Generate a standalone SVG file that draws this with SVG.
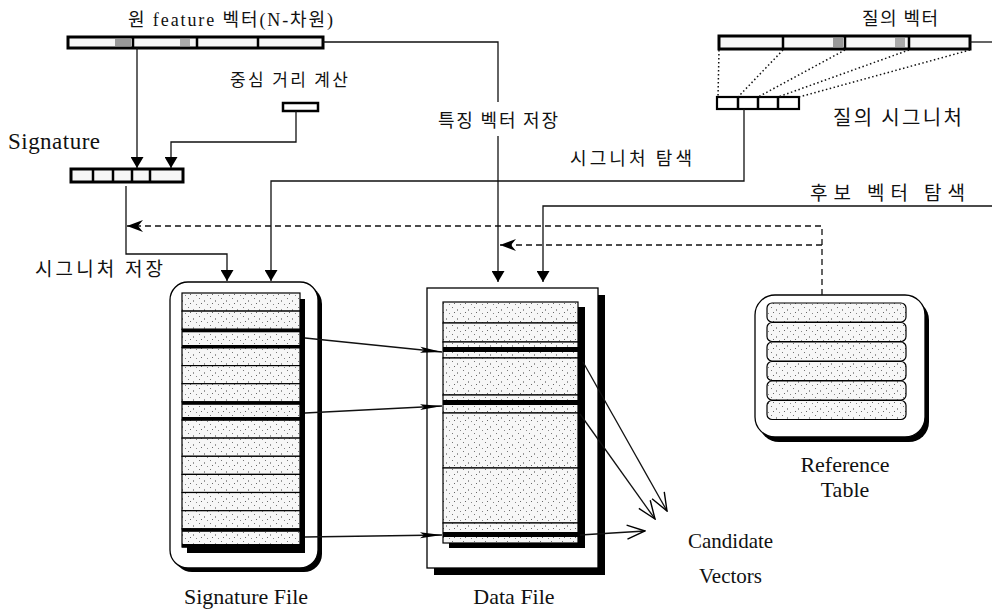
<svg xmlns="http://www.w3.org/2000/svg" width="992" height="611" viewBox="0 0 992 611">
<style>
.ser{font-family:"Liberation Serif","Noto Sans CJK KR",serif;fill:#111}
.kr{font-family:"Noto Sans CJK KR","Liberation Serif",sans-serif;fill:#111}
.ln{fill:none;stroke:#111;stroke-width:1.3}
.dash{fill:none;stroke:#111;stroke-width:1.3;stroke-dasharray:6 4}
.dot{fill:none;stroke:#111;stroke-width:1.5;stroke-dasharray:1.5 2.5}
.bar{fill:#f6f6f6;stroke:#000;stroke-width:3}
.cell{fill:url(#tex);stroke:#000;stroke-width:1.2}
.sep{stroke:#000;stroke-width:2.5}
.shadow{fill:#000}
</style>
<defs>
<pattern id="tex" width="11" height="9" patternUnits="userSpaceOnUse">
<rect width="11" height="9" fill="#f7f7f7"/>
<rect x="1" y="1" width="1" height="1" fill="#777"/>
<rect x="6" y="3" width="1" height="2" fill="#999"/>
<rect x="3" y="6" width="1" height="1" fill="#666"/>
<rect x="9" y="7" width="1" height="1" fill="#888"/>
</pattern>
<marker id="ah" viewBox="0 0 11 13" markerWidth="11" markerHeight="13" refX="11" refY="6.5" orient="auto" markerUnits="userSpaceOnUse">
<path d="M0,0 L11,6.5 L0,13 z" fill="#000"/>
</marker>
<marker id="dah" viewBox="0 0 16 12" markerWidth="16" markerHeight="12" refX="16" refY="6" orient="auto" markerUnits="userSpaceOnUse">
<path d="M0,0 L16,6 L0,12 L5,6 z" fill="#000"/>
</marker>
<marker id="lah" viewBox="0 0 22 8" markerWidth="22" markerHeight="8" refX="22" refY="4" orient="auto" markerUnits="userSpaceOnUse">
<path d="M0,1 L22,4 L0,7 L4,4 z" fill="#000"/>
</marker>
<marker id="oah" viewBox="0 0 20 16" markerWidth="20" markerHeight="16" refX="19" refY="8" orient="auto" markerUnits="userSpaceOnUse">
<path d="M1,1 L19,8 L1,15" fill="none" stroke="#000" stroke-width="1.4"/>
</marker>
</defs>
<rect width="992" height="611" fill="#fff"/>

<g id="feature-vector">
<rect class="bar" x="68" y="37" width="255" height="11"/>
<line class="sep" x1="133" y1="37" x2="133" y2="48"/>
<line class="sep" x1="197" y1="37" x2="197" y2="48"/>
<line class="sep" x1="258" y1="37" x2="258" y2="48"/>
<rect x="115" y="39" width="16" height="7" fill="#999"/>
<rect x="180" y="39" width="10" height="7" fill="#aaa"/>
<text class="ser" x="128" y="26" font-size="18" textLength="205">원 feature 벡터(N-차원)</text>
</g>

<g id="center-distance">
<rect x="283" y="103" width="35" height="8" fill="#fff" stroke="#000" stroke-width="2.5"/>
<text class="kr" x="230" y="86" font-size="17" textLength="118">중심 거리 계산</text>
</g>

<g id="signature">
<rect class="bar" x="71" y="169" width="112" height="13" stroke-width="2.5"/>
<line class="sep" x1="93" y1="169" x2="93" y2="182"/>
<line class="sep" x1="113" y1="169" x2="113" y2="182"/>
<line class="sep" x1="132" y1="169" x2="132" y2="182"/>
<line class="sep" x1="150" y1="169" x2="150" y2="182"/>
<text class="ser" x="8" y="149" font-size="23" textLength="92">Signature</text>
</g>

<g id="query-vector">
<rect class="bar" x="719" y="36" width="251" height="13"/>
<line class="sep" x1="783" y1="36" x2="783" y2="49"/>
<line class="sep" x1="845" y1="36" x2="845" y2="49"/>
<line class="sep" x1="909" y1="36" x2="909" y2="49"/>
<rect x="833" y="38" width="10" height="9" fill="#999"/>
<rect x="895" y="38" width="10" height="9" fill="#aaa"/>
<text class="kr" x="862" y="25" font-size="18" textLength="76">질의 벡터</text>
</g>

<g id="query-signature">
<rect x="717" y="97" width="82" height="12" fill="#fff" stroke="#000" stroke-width="2.2"/>
<line class="sep" x1="738" y1="97" x2="738" y2="109" stroke-width="2"/>
<line class="sep" x1="758" y1="97" x2="758" y2="109" stroke-width="2"/>
<line class="sep" x1="778" y1="97" x2="778" y2="109" stroke-width="2"/>
<text class="kr" x="833" y="125" font-size="20" textLength="129">질의 시그니처</text>
</g>

<g id="signature-file">
<rect class="shadow" x="174" y="286" width="148" height="286" rx="18"/>
<rect x="170" y="282" width="148" height="286" rx="18" fill="#fff" stroke="#000" stroke-width="1.3"/>
<rect class="shadow" x="187" y="299" width="118" height="254"/>
<rect class="cell" x="182" y="293" width="118" height="18.1"/>
<rect class="cell" x="182" y="311.1" width="118" height="18.2"/>
<rect class="cell" x="182" y="329.3" width="118" height="18.1"/>
<rect class="cell" x="182" y="347.4" width="118" height="18.2"/>
<rect class="cell" x="182" y="365.6" width="118" height="18.1"/>
<rect class="cell" x="182" y="383.7" width="118" height="18.1"/>
<rect class="cell" x="182" y="401.8" width="118" height="18.2"/>
<rect class="cell" x="182" y="420" width="118" height="18.1"/>
<rect class="cell" x="182" y="438.1" width="118" height="18.2"/>
<rect class="cell" x="182" y="456.3" width="118" height="18.1"/>
<rect class="cell" x="182" y="474.4" width="118" height="18.1"/>
<rect class="cell" x="182" y="492.5" width="118" height="18.2"/>
<rect class="cell" x="182" y="510.7" width="118" height="18.1"/>
<rect class="cell" x="182" y="528.8" width="118" height="18.2"/>
<rect x="182" y="329.3" width="118" height="3" fill="#000"/>
<rect x="182" y="345" width="118" height="3.5" fill="#000"/>
<rect x="182" y="401.8" width="118" height="3" fill="#000"/>
<rect x="182" y="417" width="118" height="3.5" fill="#000"/>
<rect x="182" y="528.8" width="118" height="3" fill="#000"/>
<rect x="182" y="544" width="118" height="3.5" fill="#000"/>
<text class="ser" x="246" y="604" font-size="22" text-anchor="middle">Signature File</text>
</g>

<g id="data-file">
<rect class="shadow" x="434" y="295" width="171" height="280"/>
<rect x="427" y="288" width="171" height="280" fill="#fff" stroke="#000" stroke-width="1.3"/>
<rect class="shadow" x="449" y="307" width="136" height="241"/>
<rect class="cell" x="443" y="302" width="135" height="21"/>
<rect class="cell" x="443" y="323" width="135" height="19"/>
<rect class="cell" x="443" y="342" width="135" height="16"/>
<rect class="cell" x="443" y="358" width="135" height="37"/>
<rect class="cell" x="443" y="395" width="135" height="18"/>
<rect class="cell" x="443" y="413" width="135" height="55"/>
<rect class="cell" x="443" y="468" width="135" height="55"/>
<rect class="cell" x="443" y="523" width="135" height="20"/>
<rect x="443" y="347" width="135" height="5" fill="#000"/>
<rect x="443" y="400" width="135" height="5" fill="#000"/>
<rect x="443" y="532" width="135" height="5" fill="#000"/>
<text class="ser" x="514" y="604" font-size="22" text-anchor="middle">Data File</text>
</g>

<g id="reference-table">
<rect class="shadow" x="759" y="300" width="170" height="142" rx="20"/>
<rect x="755" y="295" width="170" height="142" rx="20" fill="#fff" stroke="#000" stroke-width="1.3"/>
<rect class="cell" x="767" y="303" width="139" height="19" rx="5"/>
<rect class="cell" x="767" y="322.5" width="139" height="19" rx="5"/>
<rect class="cell" x="767" y="342" width="139" height="19" rx="5"/>
<rect class="cell" x="767" y="361.5" width="139" height="19" rx="5"/>
<rect class="cell" x="767" y="381" width="139" height="19" rx="5"/>
<rect class="cell" x="767" y="400.5" width="139" height="19" rx="5"/>
<text class="ser" x="845" y="472" font-size="22" text-anchor="middle">Reference</text>
<text class="ser" x="845" y="497" font-size="22" text-anchor="middle">Table</text>
</g>

<g id="candidate-vectors">
<text class="ser" x="688" y="548" font-size="21">Candidate</text>
<text class="ser" x="699" y="583" font-size="21">Vectors</text>
</g>

<g id="labels">
<text class="kr" x="438" y="127" font-size="18" textLength="120">특징 벡터 저장</text>
<text class="kr" x="570" y="165" font-size="18" textLength="122">시그니처 탐색</text>
<text class="kr" x="810" y="200" font-size="19" textLength="155">후보 벡터 탐색</text>
<text class="kr" x="35" y="276" font-size="19" textLength="128">시그니처 저장</text>
</g>

<g id="connectors">
<path class="ln" d="M137,48 V168" marker-end="url(#ah)"/>
<path class="ln" d="M296,111 V142 H171 V168" marker-end="url(#ah)"/>
<path class="ln" d="M323,42 H498 V102"/>
<path class="ln" d="M498,136 V282" marker-end="url(#ah)"/>
<path class="ln" d="M126,186 V254 H227 V281" marker-end="url(#ah)"/>
<path class="ln" d="M744,109 V181 H271 V281" marker-end="url(#ah)"/>
<path class="ln" d="M970,42 H992"/>
<path class="ln" d="M992,206 H543 V282" marker-end="url(#ah)"/>
<path class="dot" d="M719,50 L718,97"/>
<path class="dot" d="M783,50 L738,97"/>
<path class="dot" d="M845,50 L758,97"/>
<path class="dot" d="M909,50 L778,97"/>
<path class="dot" d="M970,50 L799,97"/>
<path class="dash" d="M822,295 V226 H127"/>
<line x1="140" y1="226" x2="127" y2="226" stroke="none" marker-end="url(#dah)"/>
<path class="dash" d="M822,245 H500"/>
<line x1="513" y1="245" x2="500" y2="245" stroke="none" marker-end="url(#dah)"/>
<path class="ln" d="M305,338 L442,352" marker-end="url(#lah)"/>
<path class="ln" d="M305,413 L442,406" marker-end="url(#lah)"/>
<path class="ln" d="M305,537 L442,535" marker-end="url(#lah)"/>
<path class="ln" d="M583,362 L667,511" marker-end="url(#oah)"/>
<path class="ln" d="M580,414 L655,519" marker-end="url(#oah)"/>
<path class="ln" d="M580,535 L645,531" marker-end="url(#oah)"/>
</g>
</svg>
